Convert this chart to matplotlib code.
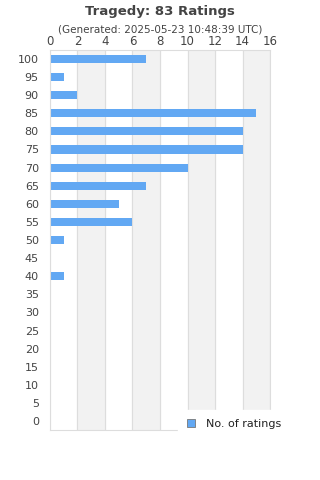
import matplotlib.pyplot as plt
import matplotlib
matplotlib.use('Agg')

ratings = [100, 95, 90, 85, 80, 75, 70, 65, 60, 55, 50, 45, 40, 35, 30, 25, 20, 15, 10, 5, 0]
counts = [7, 1, 2, 15, 14, 14, 10, 7, 5, 6, 1, 0, 1, 0, 0, 0, 0, 0, 0, 0, 0]
title = 'Tragedy: 83 Ratings'
subtitle = '(Generated: 2025-05-23 10:48:39 UTC)'
xticks = [0, 2, 4, 6, 8, 10, 12, 14, 16]

txt = '#444444'
fig = plt.figure(figsize=(3.2, 4.8), dpi=100)
ax = fig.add_axes([0.156, 0.104, 0.688, 0.792])

# alternating bands
for i in range(1, len(xticks) - 1, 2):
    ax.axvspan(xticks[i], xticks[i + 1], color='#f2f2f2', zorder=0)
for x in xticks:
    ax.axvline(x, color='#dddddd', lw=0.8, zorder=1)

pos = list(range(len(ratings)))
ax.barh(pos, counts, height=0.45, color='#62a8f3', zorder=2, label='No. of ratings')
ax.set_ylim(len(ratings) - 0.5, -0.5)
ax.set_yticks(pos)
ax.set_yticklabels([str(r) for r in ratings])
ax.set_xlim(0, 16)
ax.set_xticks(xticks)
ax.xaxis.tick_top()
ax.tick_params(length=0, labelsize=8, colors=txt, pad=2)
ax.tick_params(axis='x', labelsize=8.5, pad=1.5)
ax.tick_params(axis='y', pad=8)
for s in ax.spines.values():
    s.set_color('#dddddd')
    s.set_linewidth(0.8)

fig.text(0.5, 0.977, title, ha='center', va='center', fontsize=9.5, fontweight='bold', color=txt)
fig.text(0.5, 0.939, subtitle, ha='center', va='center', fontsize=7.5, color=txt)

leg = fig.legend(loc='lower left', bbox_to_anchor=(0.54, 0.076), frameon=True, fontsize=8,
                 handlelength=0.7, handleheight=0.7, handletextpad=1.0, borderpad=0.8,
                 fancybox=False)
leg.get_frame().set_edgecolor('white')
leg.get_frame().set_facecolor('white')
leg.get_frame().set_alpha(1)
for h in leg.legend_handles:
    h.set_edgecolor('#777777')
    h.set_linewidth(0.6)
for t in leg.get_texts():
    t.set_color('#222222')

fig.savefig('out.png', dpi=100)
